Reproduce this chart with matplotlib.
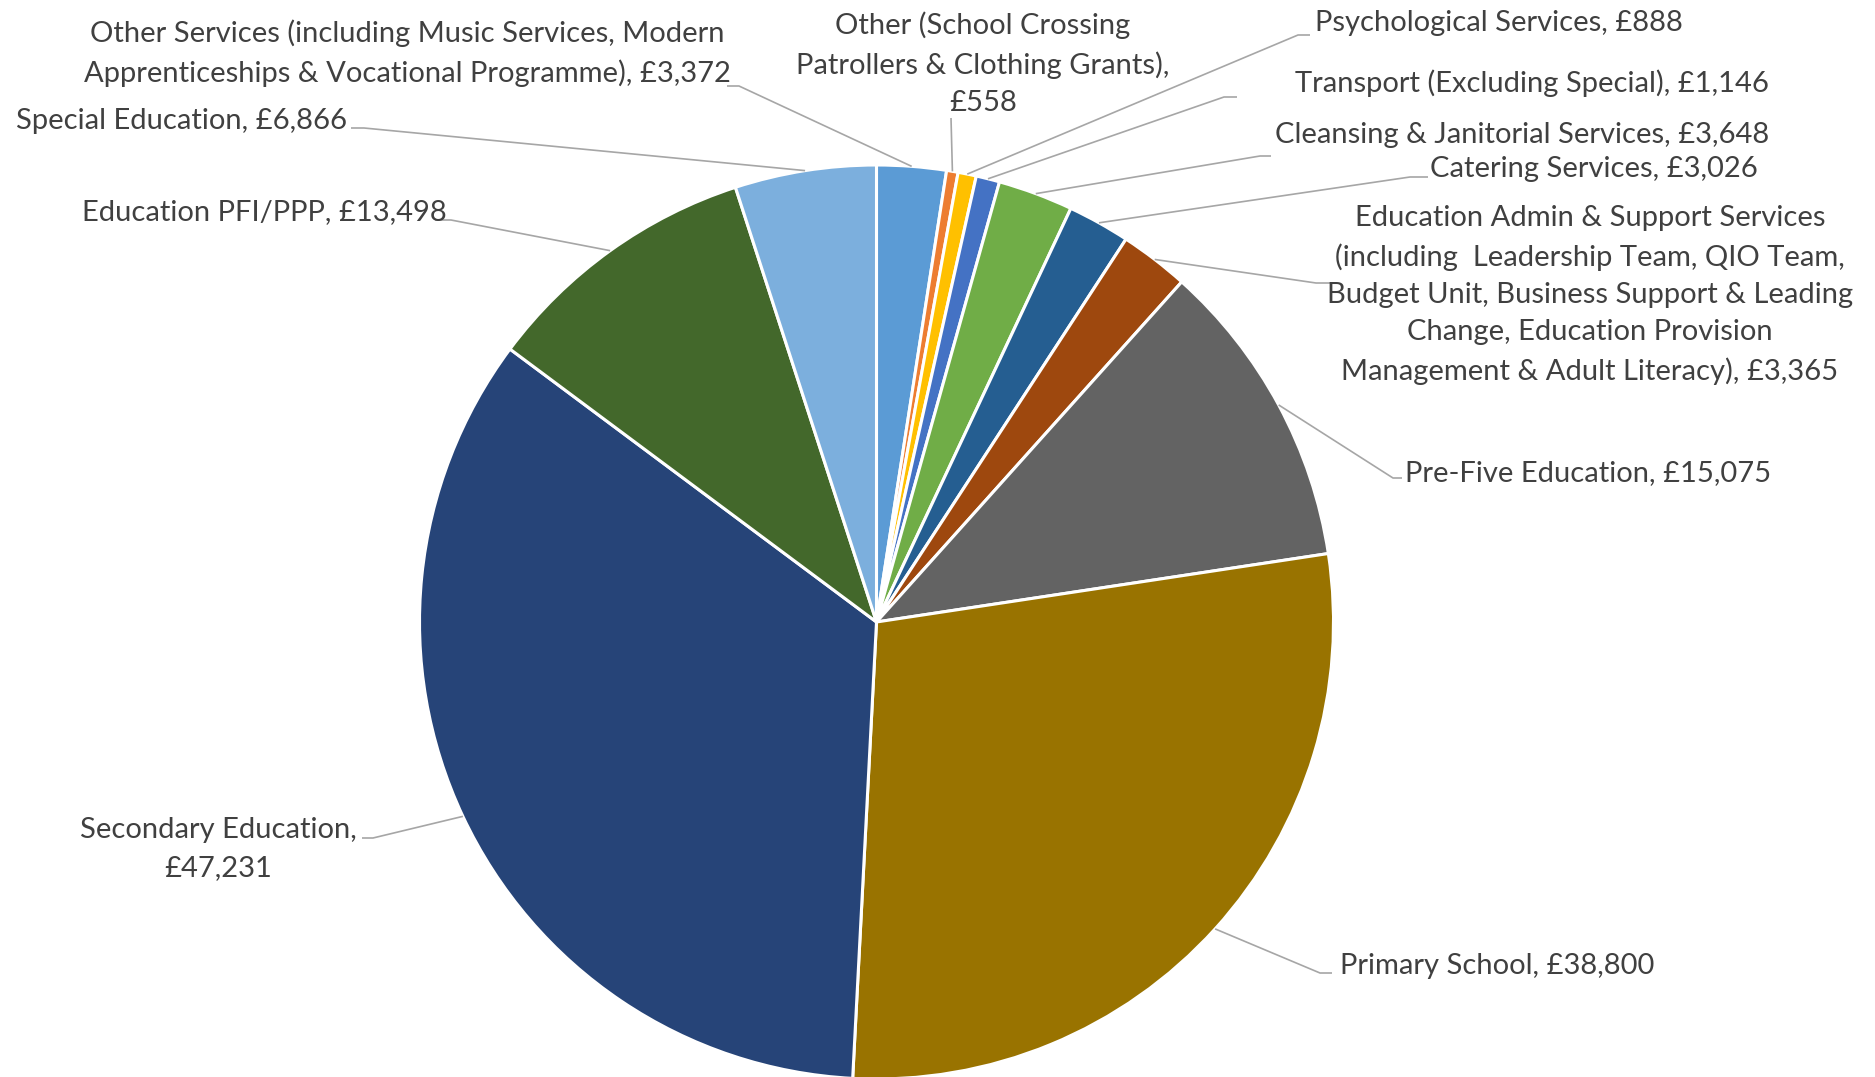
import numpy as np
import matplotlib.pyplot as plt

# Education budget by service (£000s), clockwise from 12 o'clock
names = [
    "Other Services (including Music Services, Modern\nApprenticeships & Vocational Programme)",
    "Other (School Crossing\nPatrollers & Clothing Grants)",
    "Psychological Services",
    "Transport (Excluding Special)",
    "Cleansing & Janitorial Services",
    "Catering Services",
    "Education Admin & Support Services\n(including  Leadership Team, QIO Team,\n"
    "Budget Unit, Business Support & Leading\nChange, Education Provision\n"
    "Management & Adult Literacy)",
    "Pre-Five Education",
    "Primary School",
    "Secondary Education",
    "Education PFI/PPP",
    "Special Education",
]
values = [3372, 558, 888, 1146, 3648, 3026, 3365, 15075, 38800, 47231, 13498, 6866]
separators = [", ", ",\n", ", ", ", ", ", ", ", ", ", ", ", ", ", ", ",\n", ", ", ", "]
colors = ["#5B9BD5", "#ED7D31", "#FFC000", "#4472C4", "#70AD47", "#255E91",
          "#9E480E", "#636363", "#997300", "#264478", "#43682B", "#7CAFDD"]

W, H = 1875, 1077
CX, CY, R = 876.5, 622, 457

# label placement in pixels from the top-left: (x, y, ha)
label_pos = [
    (407, 53, "center"),
    (983, 64, "center"),
    (1315, 23, "left"),
    (1295, 83, "left"),
    (1275, 135, "left"),
    (1430, 169, "left"),
    (1590, 295, "center"),
    (1405, 473, "left"),
    (1340, 966, "left"),
    (218, 849, "center"),
    (447, 212, "right"),
    (347, 121, "right"),
]
# leader stub (x_start, x_end, y) in pixels; diagonal joins the x nearer the pie
stubs = [
    (727, 739, 86),
    (951, 951, 118),
    (1310, 1298, 35),
    (1237, 1224, 97),
    (1271, 1260, 156),
    (1428, 1410, 177),
    (1330, 1316, 283),
    (1402, 1393, 478),
    (1332, 1320, 973),
    (362, 373, 838),
    (435, 451, 220),
    (351, 364, 128),
]

fig = plt.figure(figsize=(W / 100, H / 100), dpi=100)
ax = fig.add_axes([0, 0, 1, 1])

wedges, _ = ax.pie(values, colors=colors, startangle=90, counterclock=False,
                   radius=R, center=(CX, H - CY),
                   wedgeprops=dict(edgecolor="white", linewidth=2.2))
ax.set_xlim(0, W)
ax.set_ylim(0, H)
ax.set_aspect("equal")
ax.axis("off")

for w, name, v, sep, (lx, ly, ha), (s0, s1, sy) in zip(
        wedges, names, values, separators, label_pos, stubs):
    mid = np.deg2rad((w.theta1 + w.theta2) / 2)
    ex = CX + R * np.cos(mid)
    ey = (H - CY) + R * np.sin(mid)
    ax.plot([ex, s1, s0], [ey, H - sy, H - sy], color="#A6A6A6", lw=1.2,
            solid_capstyle="butt", zorder=1)
    ax.text(lx, H - ly, f"{name}{sep}£{v:,}", ha=ha, va="center",
            multialignment="center", fontsize=21, family="Lato",
            color="#404040", linespacing=1.53)

fig.savefig("out.png", dpi=100)
